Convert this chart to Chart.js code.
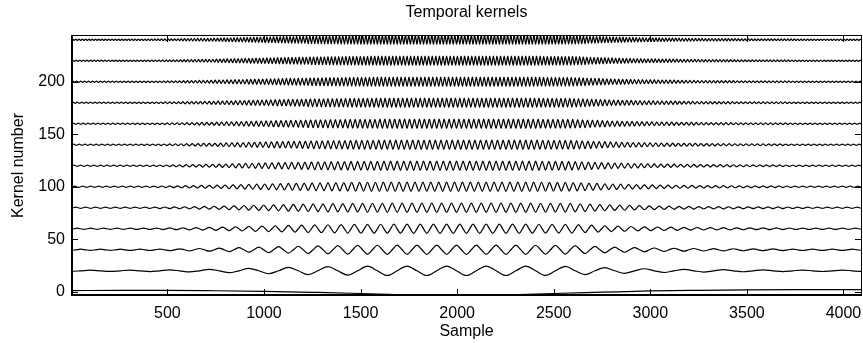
<!DOCTYPE html>
<html>
<head>
<meta charset="utf-8">
<script src="https://cdn.jsdelivr.net/npm/chart.js@4.4.0/dist/chart.umd.min.js"></script>
<style>
  html, body { margin: 0; padding: 0; background: #fff; }
</style>
</head>
<body>
<canvas id="kernelChart" width="863" height="343"></canvas>
<script>
// y position of each oscillating kernel line
var kernelOffsets = [20, 40, 60, 80, 100, 120, 140, 160, 180, 200, 220, 240];
// number of cycles over the 4096 samples (counted on the picture)
var kernelCycles = [20, 40, 60, 80, 100, 120, 140, 160, 180, 200, 220, 240];
// peak amplitude of each line, in y units
var kernelPeak = [4.5, 4.4, 4.4, 4.4, 4.4, 4.4, 4.4, 4.4, 4.4, 4.4, 4.4, 4.5];

// envelope (relative to the peak)
var envSamples = [1, 250, 500, 750, 1000, 1250, 1500, 1750, 2048, 2350, 2600, 2800, 3000, 3250, 3500, 3750, 4096];
var envShape   = [0.12, 0.13, 0.17, 0.33, 0.6, 0.83, 0.97, 1, 1, 1, 0.93, 0.6, 0.4, 0.27, 0.2, 0.16, 0.13];

// lowest kernel (offset 0), read point by point
var k0Samples = [1, 250, 500, 750, 1000, 1250, 1500, 1750, 2000, 2250, 2500, 2750, 3000, 3250, 3500, 3750, 4096];
var k0Values  = [1.2, 1.3, 1.4, 1.0, 0.4, -0.5, -1.6, -3.2, -4.6, -3.2, -1.6, -0.4, 0.8, 1.4, 1.8, 2.0, 2.0];

var xTickValues = [500, 1000, 1500, 2000, 2500, 3000, 3500, 4000];
var yTickValues = [0, 50, 100, 150, 200];

function envAt(n) {
    if (n <= envSamples[0]) return envShape[0];
    for (var i = 1; i < envSamples.length; i++) {
        if (n <= envSamples[i]) {
            var t = (n - envSamples[i - 1]) / (envSamples[i] - envSamples[i - 1]);
            return envShape[i - 1] + t * (envShape[i] - envShape[i - 1]);
        }
    }
    return envShape[envShape.length - 1];
}

// extrema and zero crossings of each kernel, trough at the centre sample
function kernelPoints(i) {
    var q = 4096 / (4 * kernelCycles[i]);
    var pts = [];
    var mStart = Math.floor((1 - 2048) / q) - 1, mEnd = Math.ceil((4096 - 2048) / q) + 1;
    for (var m = mStart; m <= mEnd; m++) {
        var n = 2048 + m * q;
        var r = ((m % 4) + 4) % 4;
        var s = r === 0 ? -1 : (r === 2 ? 1 : 0);
        pts.push({ x: n, y: kernelOffsets[i] + s * kernelPeak[i] * envAt(n) });
    }
    return pts;
}

var datasets = [{
    data: k0Samples.map(function (x, j) { return { x: x, y: k0Values[j] }; }),
    borderColor: '#000', borderWidth: 1.2, pointRadius: 0, cubicInterpolationMode: 'monotone'
}];
for (var i = 0; i < kernelOffsets.length; i++) {
    datasets.push({
        data: kernelPoints(i),
        borderColor: '#000', borderWidth: 1.2, pointRadius: 0, cubicInterpolationMode: 'monotone'
    });
}

var font = { family: 'Liberation Sans, Arial, sans-serif', size: 16 };

// box round the plot with tick marks pointing inwards on all four sides
var framePlugin = {
    id: 'frame',
    afterDatasetsDraw: function (chart) {
        var a = chart.chartArea, ctx = chart.ctx;
        var xs = chart.scales.x, ys = chart.scales.y;
        ctx.save();
        ctx.strokeStyle = '#000';
        ctx.lineWidth = 1;
        ctx.beginPath();
        xs.ticks.forEach(function (t) {
            var px = Math.round(xs.getPixelForValue(t.value)) + 0.5;
            ctx.moveTo(px, a.bottom); ctx.lineTo(px, a.bottom - 7);
            ctx.moveTo(px, a.top); ctx.lineTo(px, a.top + 7);
        });
        ys.ticks.forEach(function (t) {
            var py = Math.round(ys.getPixelForValue(t.value)) + 0.5;
            ctx.moveTo(a.left, py); ctx.lineTo(a.left + 7, py);
            ctx.moveTo(a.right, py); ctx.lineTo(a.right - 7, py);
        });
        ctx.stroke();
        ctx.strokeRect(a.left + 0.5, a.top + 0.5, a.right - a.left - 1, a.bottom - a.top - 1);
        ctx.lineWidth = 2;
        ctx.beginPath();
        ctx.moveTo(a.left + 1, a.top); ctx.lineTo(a.left + 1, a.bottom);
        ctx.moveTo(a.left, a.bottom - 1); ctx.lineTo(a.right, a.bottom - 1);
        ctx.stroke();
        ctx.restore();
    }
};

function plainLabel(v) { return String(v); }

var kernelChart = new Chart(document.getElementById('kernelChart'), {
    type: 'line',
    data: { datasets: datasets },
    options: {
        responsive: false,
        animation: false,
        devicePixelRatio: 1,
        parsing: false,
        layout: { padding: { left: 0, right: 1, top: 0, bottom: 0 } },
        plugins: {
            legend: { display: false },
            tooltip: { enabled: false },
            title: { display: false }
        },
        scales: {
            x: {
                type: 'linear', min: 1, max: 4096,
                afterBuildTicks: function (s) { s.ticks = xTickValues.map(function (v) { return { value: v }; }); },
                afterFit: function (s) { s.height = 47; s.paddingLeft = 0; s.paddingRight = 0; },
                ticks: { color: '#000', font: font, padding: 8, maxRotation: 0, autoSkip: false, callback: plainLabel },
                grid: { display: false, drawTicks: false },
                border: { display: false },
                title: { display: true, text: 'Sample', color: '#000', font: font, padding: { top: 0, bottom: 1.6 } }
            },
            // top axis only carries the chart title, centred over the plot
            xTop: {
                type: 'linear', position: 'top', min: 1, max: 4096,
                afterFit: function (s) { s.height = 35; s.paddingLeft = 0; s.paddingRight = 0; },
                ticks: { display: false },
                grid: { display: false, drawTicks: false },
                border: { display: false },
                title: { display: true, text: 'Temporal kernels', color: '#000', font: font, padding: { top: 2.6, bottom: 0 } }
            },
            y: {
                type: 'linear', min: -4, max: 244.5,
                afterBuildTicks: function (s) { s.ticks = yTickValues.map(function (v) { return { value: v }; }); },
                afterFit: function (s) { s.width = 71; },
                ticks: { color: '#000', font: font, padding: 6, autoSkip: false, callback: plainLabel },
                grid: { display: false, drawTicks: false },
                border: { display: false },
                title: { display: true, text: 'Kernel number', color: '#000', font: font, padding: { top: 8.6, bottom: 0 } }
            }
        }
    },
    plugins: [framePlugin]
});
</script>
</body>
</html>
